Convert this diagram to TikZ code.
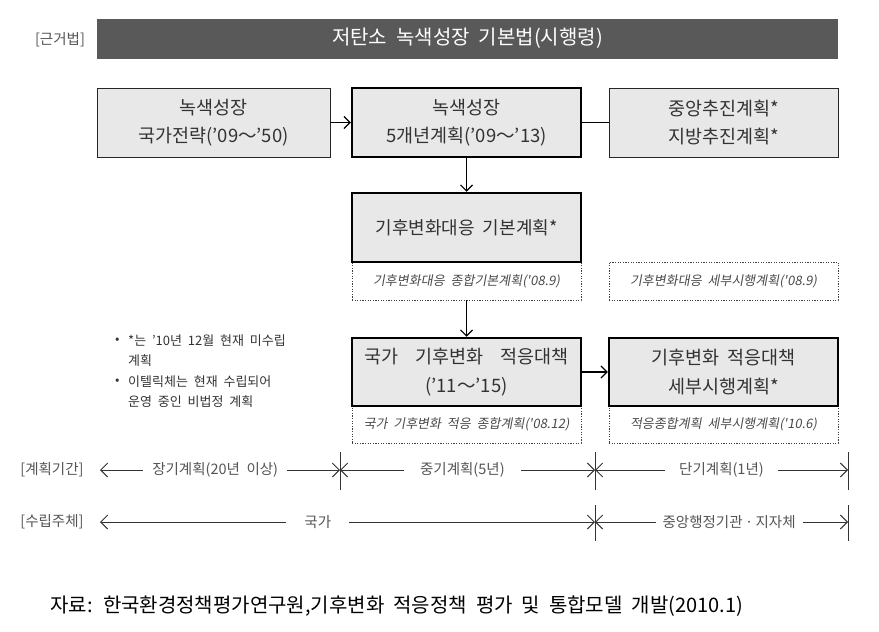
\documentclass[tikz,border=0pt]{standalone}
\usepackage{fontspec}
\setmainfont{Noto Sans CJK KR}[WordSpace=2]
\newfontfamily\krit{Noto Sans CJK KR}[FakeSlant=0.18,WordSpace=2]
\usetikzlibrary{arrows.meta}
\definecolor{boxgray}{HTML}{E8E8E8}
\definecolor{bargray}{HTML}{595959}
\definecolor{txt}{HTML}{333333}
\definecolor{dtxt}{HTML}{4A4A4A}
\definecolor{lbl}{HTML}{555555}
\begin{document}
\begin{tikzpicture}[x=1pt,y=-1pt,
  every node/.style={inner sep=0pt, text=txt},
  plainbox/.style={draw=black!85, line width=0.9pt, fill=boxgray, minimum width=229pt, minimum height=69pt, align=center, font=\fontsize{18.5}{28}\selectfont},
  boldbox/.style={plainbox, line width=2.5pt, draw=black},
  dotbox/.style={draw=black!75, line width=0.8pt, dash pattern=on 1.2pt off 1.4pt, minimum width=229pt, minimum height=38pt, font=\krit\fontsize{13}{15}\selectfont, text=dtxt},
  conn/.style={line width=1.1pt, -{Straight Barb[length=6pt,width=12pt]}},
  tl/.style={line width=0.9pt, draw=black!80},
  tlarr/.style={tl, {Straight Barb[length=7pt,width=14pt]}-{Straight Barb[length=7pt,width=14pt]}},
  tickline/.style={line width=0.9pt, draw=black!80},
  tlabel/.style={fill=white, inner xsep=9pt, inner ysep=2pt, font=\fontsize{14.5}{16}\selectfont, text=lbl},
  sidelabel/.style={font=\fontsize{14.5}{16}\selectfont, text=lbl},
  note/.style={anchor=west, font=\fontsize{13}{15}\selectfont, text=txt}
]
\useasboundingbox (0,0) rectangle (879,632);

% header
\node[fill=bargray, minimum width=741pt, minimum height=40pt, text=white, font=\fontsize{20}{22}\selectfont] (law) at (467.5,38.5) {저탄소 녹색성장 기본법(시행령)};
\node[sidelabel] (basis) at (60,40) {[근거법]};

% row 1
\node[plainbox, minimum width=233pt] (b1) at (213.5,122.5) {녹색성장\\국가전략('09～'50)};
\node[boldbox] (b2) at (466.5,122.5) {녹색성장\\5개년계획('09～'13)};
\node[plainbox] (b3) at (723.5,122.5) {중앙추진계획*\\지방추진계획*};

% row 2
\node[dotbox] (d1) at (466.5,281) {기후변화대응 종합기본계획('08.9)};
\node[dotbox] (d2) at (723.5,281) {기후변화대응 세부시행계획('08.9)};
\node[boldbox, font=\fontsize{18}{28}\selectfont] (b4) at (466.5,227.5) {기후변화대응 기본계획*};

% row 3
\node[dotbox, minimum height=37pt] (d3) at (466.5,424.5) {국가 기후변화 적응 종합계획('08.12)};
\node[dotbox, minimum height=37pt] (d4) at (723.5,424.5) {적응종합계획 세부시행계획('10.6)};
\node[boldbox, minimum height=68pt, font=\fontsize{18.5}{29}\selectfont] (b5) at (466.5,372) {국가\hspace{17pt}기후변화\hspace{17pt}적응대책\\('11～'15)};
\node[boldbox, minimum height=68pt, font=\fontsize{18.5}{29}\selectfont] (b6) at (723.5,372) {기후변화 적응대책\\세부시행계획*};

% connectors
\draw[conn] (b1) -- (b2);
\draw[line width=1pt] (b2) -- (b3);
\draw[conn] (b2) -- (b4);
\draw[conn] (d1) -- (b5);
\draw[conn] (b5) -- (b6);

% notes
\node[note] (bul1) at (115,341) {•};
\node[note] (n1) at (128,341) {*는 '10년 12월 현재 미수립};
\node[note] (n2) at (128,361) {계획};
\node[note] (bul2) at (115,382) {•};
\node[note] (n3) at (128,382) {이텔릭체는 현재 수립되어};
\node[note] (n4) at (128,402) {운영 중인 비법정 계획};

% timeline 1
\node[sidelabel] (plan) at (52,470) {[계획기간]};
\coordinate (r1a) at (100,470);
\coordinate (r1b) at (340,470);
\coordinate (r1c) at (595,470);
\coordinate (r1d) at (848,470);
\draw[tickline] ([yshift=18pt]r1b) -- ([yshift=-20pt]r1b);
\draw[tickline] ([yshift=18pt]r1c) -- ([yshift=-20pt]r1c);
\draw[tickline] ([yshift=18pt]r1d) -- ([yshift=-20pt]r1d);
\draw[tlarr] (r1a) -- node[tlabel, pos=0.48] (long) {장기계획(20년 이상)} (r1b);
\draw[tlarr] (r1b) -- node[tlabel, pos=0.48, inner xsep=16pt] (mid) {중기계획(5년)} (r1c);
\draw[tlarr] (r1c) -- node[tlabel, pos=0.5, inner xsep=14pt] (short) {단기계획(1년)} (r1d);

% timeline 2
\node[sidelabel] (who) at (52,522) {[수립주체]};
\coordinate (r2a) at (100,522);
\coordinate (r2c) at (595,522);
\coordinate (r2d) at (848,522);
\draw[tickline] ([yshift=17pt]r2c) -- ([yshift=-19pt]r2c);
\draw[tickline] ([yshift=17pt]r2d) -- ([yshift=-19pt]r2d);
\draw[tlarr] (r2a) -- node[tlabel, pos=0.44, inner xsep=18pt] (nation) {국가} (r2c);
\draw[tlarr] (r2c) -- node[tlabel, pos=0.53, inner xsep=7pt] (central) {중앙행정기관\,·\,지자체} (r2d);

% source
\node[anchor=west, font=\fontsize{20}{22}\selectfont, text=black] (src) at (50,606) {자료: 한국환경정책평가연구원,기후변화 적응정책 평가 및 통합모델 개발(2010.1)};
\end{tikzpicture}
\end{document}
